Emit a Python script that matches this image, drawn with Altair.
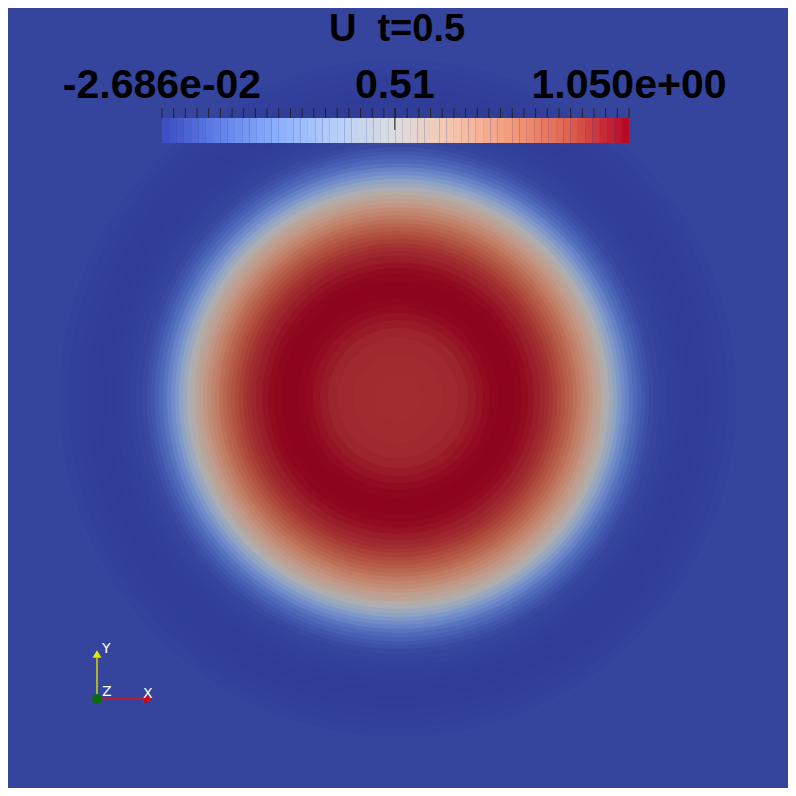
import altair as alt
import pandas as pd

# ---------------- data ----------------
# radial profile of U (radius in domain units, domain half-width = 1)
ring_radius = [0.871, 0.854, 0.833, 0.808, 0.783, 0.758, 0.732, 0.712, 0.694, 0.677,
               0.662, 0.646, 0.634, 0.624, 0.614, 0.604, 0.593, 0.583, 0.573, 0.563,
               0.553, 0.543, 0.533, 0.523, 0.513, 0.503, 0.492, 0.482, 0.472, 0.462,
               0.452, 0.442, 0.432, 0.422, 0.412, 0.402, 0.391, 0.381, 0.371, 0.359,
               0.343, 0.328, 0.313, 0.293, 0.273, 0.253, 0.232, 0.215, 0.197, 0.177,
               0.152, 0.114, 0.063]
ring_value = [-0.002, -0.007, -0.013, -0.019, -0.023, -0.025, -0.024, -0.020, -0.014, -0.007,
              0.000, 0.015, 0.035, 0.055, 0.085, 0.115, 0.155, 0.205, 0.250, 0.310,
              0.370, 0.430, 0.495, 0.545, 0.590, 0.625, 0.665, 0.705, 0.740, 0.775,
              0.810, 0.840, 0.865, 0.895, 0.920, 0.940, 0.958, 0.973, 0.985, 1.000,
              1.020, 1.035, 1.045, 1.050, 1.050, 1.045, 1.035, 1.020, 1.005, 0.990,
              0.980, 0.975, 0.972]

u_min = -0.02686
u_max = 1.050
u_mid = 0.51
label_texts = ["-2.686e-02", "0.51", "1.050e+00"]
title_text = "U\u00a0\u00a0t=0.5"

# Cool-to-warm colour map (colour bar) and the same map as lit on the surface
cmap_colors = ["#3b4cc0", "#6282ea", "#8db0fe", "#b8d0f9", "#dddddd",
               "#f5c4ad", "#f49a7b", "#de604d", "#b40426"]
lit_colors = ["#2f3c98", "#4d67b9", "#6f8bc9", "#91a4c5", "#afafaf",
              "#c29b89", "#c17a61", "#af4c3d", "#8e031e"]
cmap_domain = [u_min + (u_max - u_min) * i / 8 for i in range(9)]

# ---------------- tables ----------------
field = pd.DataFrame({"r": ring_radius, "u": ring_value})

n_bands = 64
band_a = [u_min + (u_max - u_min) * i / n_bands for i in range(n_bands)]
band_b = [u_min + (u_max - u_min) * (i + 1) / n_bands for i in range(n_bands)]
bands = pd.DataFrame({"a": band_a, "b": band_b,
                      "c": [(p + q) / 2 for p, q in zip(band_a, band_b)]})

n_ticks = 40
ticks = pd.DataFrame({"t": [u_min + (u_max - u_min) * i / n_ticks for i in range(n_ticks + 1)]})
labels = pd.DataFrame({"v": [u_min, u_mid, u_max], "txt": label_texts})

W = 780
H = 780
BG = "#35449c"
FONT = "Liberation Sans"

xcb = alt.Scale(domain=[u_min, u_max], range=[154, 621])

disks = alt.Chart(field).mark_arc(theta=0, theta2=6.2832).encode(
    radius=alt.Radius("r:Q", stack=None,
                      scale=alt.Scale(type="linear", domain=[0, 1], range=[0, 396])),
    color=alt.Color("u:Q", scale=alt.Scale(domain=cmap_domain, range=lit_colors,
                                           interpolate="rgb"), legend=None),
)

bar = alt.Chart(bands).mark_rect().encode(
    x=alt.X("a:Q", scale=xcb, axis=None),
    x2="b:Q",
    y=alt.value(110),
    y2=alt.value(135),
    fill=alt.Fill("c:Q", scale=alt.Scale(domain=cmap_domain, range=cmap_colors,
                                         interpolate="rgb"), legend=None),
)

tick_marks = alt.Chart(ticks).mark_rule(color="#222222", strokeWidth=1).encode(
    x=alt.X("t:Q", scale=xcb, axis=None),
    y=alt.value(100),
    y2=alt.value(110),
)

mid_tick = alt.Chart(pd.DataFrame({"t": [u_mid]})).mark_rule(color="#222222", strokeWidth=1).encode(
    x=alt.X("t:Q", scale=xcb, axis=None),
    y=alt.value(100),
    y2=alt.value(122),
)

label_marks = alt.Chart(labels).mark_text(
    font=FONT, fontSize=41, fontWeight="bold", color="#000000",
    baseline="alphabetic", align="center"
).encode(
    x=alt.X("v:Q", scale=xcb, axis=None),
    y=alt.value(90),
    text="txt:N",
)

title_mark = alt.Chart(pd.DataFrame({"txt": [title_text]})).mark_text(
    font=FONT, fontSize=38, fontWeight="bold", color="#000000",
    baseline="alphabetic", align="center"
).encode(x=alt.value(389), y=alt.value(33), text="txt:N")

# ---------------- orientation triad ----------------
one = pd.DataFrame({"k": [0]})
ox, oy = 89, 691
y_axis = alt.Chart(one).mark_rule(color="#d8d800", strokeWidth=1.5).encode(
    x=alt.value(ox), y=alt.value(oy), y2=alt.value(650))
x_axis = alt.Chart(one).mark_rule(color="#e01010", strokeWidth=1.5).encode(
    x=alt.value(ox), x2=alt.value(136), y=alt.value(oy))
y_cone = alt.Chart(one).mark_point(
    shape="triangle-up", filled=True, color="#e8e800", opacity=1, size=80).encode(
    x=alt.value(ox), y=alt.value(646))
x_cone = alt.Chart(one).mark_point(
    shape="triangle-right", filled=True, color="#e00000", opacity=1, size=80).encode(
    x=alt.value(140), y=alt.value(oy))
z_ball = alt.Chart(one).mark_point(
    shape="circle", filled=True, color="#0b6b0b", opacity=1, size=100).encode(
    x=alt.value(ox), y=alt.value(oy))


def triad_label(t, px, py):
    return alt.Chart(one).mark_text(
        font="DejaVu Sans", fontSize=14, color="#ffffff", align="left", baseline="middle", text=t
    ).encode(x=alt.value(px), y=alt.value(py))


chart = alt.layer(
    disks, bar, tick_marks, mid_tick, label_marks, title_mark,
    y_axis, x_axis, y_cone, x_cone, z_ball,
    triad_label("Y", 94, 641), triad_label("Z", 94, 684), triad_label("X", 135, 686),
).resolve_scale(color="independent").properties(
    width=W, height=H, padding=0, background=BG
).configure_view(fill=BG, stroke=None)

chart.save("out.html", embed_options={"renderer": "svg", "actions": False})
